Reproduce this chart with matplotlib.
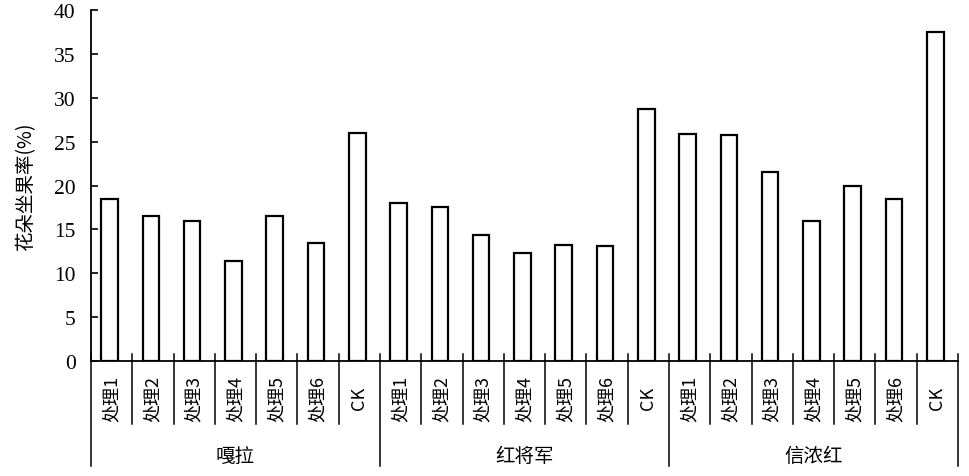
import matplotlib.pyplot as plt

groups = ['嘎拉', '红将军', '信浓红']
treatments = ['处理1', '处理2', '处理3', '处理4', '处理5', '处理6', 'CK']
gala = [18.5, 16.5, 16.0, 11.4, 16.5, 13.5, 26.0]
hongjiangjun = [18.0, 17.6, 14.4, 12.3, 13.2, 13.1, 28.7]
xinnonghong = [25.9, 25.7, 21.5, 15.9, 20.0, 18.5, 37.5]
yticks = [0, 5, 10, 15, 20, 25, 30, 35, 40]

cjk = ['Noto Sans CJK SC', 'DejaVu Sans']
serif = 'Liberation Serif'

values = gala + hongjiangjun + xinnonghong
n = len(values)
xs = [i + 0.45 for i in range(n)]

fig = plt.figure(figsize=(9.69, 4.77), dpi=100)
ax = fig.add_axes([91 / 969, 1 - 362 / 477, 867 / 969, 351 / 477])
ax.bar(xs, values, width=0.4, color='white', edgecolor='black', linewidth=1.6)

ax.set_xlim(0, n)
ax.set_ylim(0, 40)
ax.set_yticks(yticks)
ax.set_yticklabels([str(t) for t in yticks], fontfamily=serif, fontsize=15.5)
ax.tick_params(axis='y', direction='in', length=5, width=1.2, pad=11)
ax.set_xticks([])
for s in ['top', 'right']:
    ax.spines[s].set_visible(False)
for s in ['left', 'bottom']:
    ax.spines[s].set_linewidth(1.3)
ax.set_ylabel('花朵坐果率(%)', fontfamily=cjk, fontsize=14, labelpad=13)

tr = ax.get_xaxis_transform()
for i in range(n + 1):
    if i % 7 == 0:
        y0 = -0.30
    else:
        y0 = -0.18
    ax.plot([i, i], [0.02, y0], color='black', lw=1.1, transform=tr, clip_on=False)
for i in range(n):
    ax.text(i + 0.5, -0.105, treatments[i % 7], rotation=90, ha='center', va='center',
            fontfamily=cjk, fontsize=13, transform=tr)
for g, name in enumerate(groups):
    ax.text(g * 7 + 3.5, -0.27, name, ha='center', va='center',
            fontfamily=cjk, fontsize=14, transform=tr)

fig.savefig('out.png', dpi=100)
